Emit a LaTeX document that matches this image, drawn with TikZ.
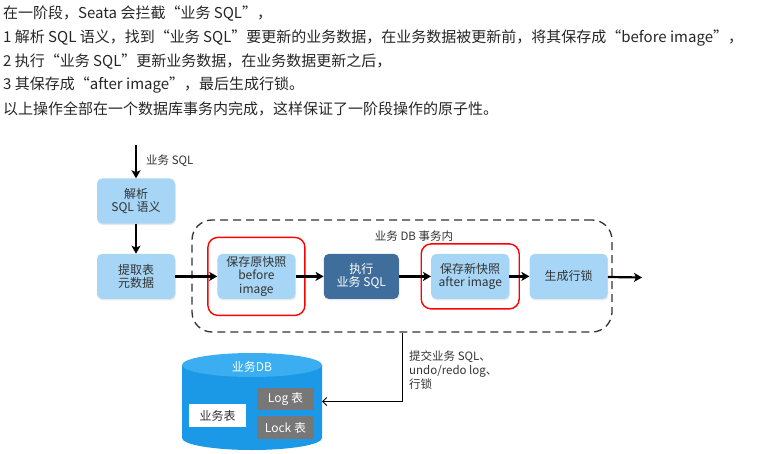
\documentclass[tikz,border=0pt]{standalone}
\usepackage{fontspec}
\setmainfont{Noto Sans CJK SC}
\usetikzlibrary{shapes.geometric, arrows.meta, positioning, shadows}

\definecolor{boxblue}{HTML}{A6D5F5}
\definecolor{execblue}{HTML}{3F6E9C}
\definecolor{dbblue}{HTML}{1B98E6}
\definecolor{dbtop}{HTML}{3AAEF0}
\definecolor{tabgray}{HTML}{777777}
\definecolor{inkgray}{HTML}{333333}

\begin{document}
\begin{tikzpicture}[
        x=1pt, y=-1pt,
        node distance=30pt and 30pt,
        line/.style={anchor=west, inner sep=0pt, font=\fontsize{15}{18}\selectfont, text=black!85},
        box/.style={rectangle, rounded corners=5pt, fill=boxblue, align=center, minimum width=78pt, minimum height=45pt, inner sep=1pt, font=\fontsize{12}{13.3}\selectfont, text=inkgray, drop shadow={opacity=0.18, shadow xshift=0.8pt, shadow yshift=-1.5pt}},
        execbox/.style={box, fill=execblue, text=white, minimum width=75pt},
        txnbox/.style={rectangle, draw=black!80, line width=1.3pt, dash pattern=on 8pt off 5pt, rounded corners=20pt, minimum width=420pt, minimum height=112pt},
        hilite/.style={rectangle, draw=red, line width=1.4pt, rounded corners=10pt},
        note/.style={inner sep=0pt, font=\fontsize{11.5}{14}\selectfont, text=inkgray},
        dbstore/.style={rectangle, minimum width=140pt, minimum height=97pt, inner sep=0pt},
        table/.style={rectangle, minimum width=57pt, minimum height=22.5pt, inner sep=0pt, font=\fontsize{12}{14}\selectfont},
        flow/.style={-{Stealth[length=8pt, width=9pt, inset=2pt]}, line width=2.2pt},
        commit/.style={-{Straight Barb[length=4pt, width=8pt]}, line width=0.9pt}
        ]
        \useasboundingbox (0,0) rectangle (767,454);

        % text above the diagram
        \node (intro) [line] at (3,14) {在一阶段，Seata 会拦截“业务 SQL”，};
        \node (step1) [line] at (3,38) {1 解析 SQL 语义，找到“业务 SQL”要更新的业务数据，在业务数据被更新前，将其保存成“before image”，};
        \node (step2) [line] at (3,61.5) {2 执行“业务 SQL”更新业务数据，在业务数据更新之后，};
        \node (step3) [line] at (3,85) {3 其保存成“after image”，最后生成行锁。};
        \node (summary) [line] at (3,109) {以上操作全部在一个数据库事务内完成，这样保证了一阶段操作的原子性。};

        % phase one
        \node (txn) [txnbox] at (402,276) {};
        \node (txnname) [note] at (414,236) {业务 DB 事务内};
        \coordinate (in) at (136,145);
        \node (sqlnote) [note, anchor=west] at (146,161) {业务 SQL};
        \node (parse) [box] at (136,201) {解析\\SQL 语义};
        \node (meta) [box, below=30pt of parse] {提取表\\元数据};
        \node (before) [box, right=42pt of meta] {保存原快照\\before\\image};
        \node (exec) [execbox, right=28pt of before] {执行\\业务 SQL};
        \node (after) [box, right=32pt of exec] {保存新快照\\after image};
        \node (lock) [box, right=20pt of after] {生成行锁};
        \coordinate (out) at (642,277.5);
        \node (hlbefore) [hilite, minimum width=97pt, minimum height=78pt] at (before) {};
        \node (hlafter) [hilite, minimum width=98pt, minimum height=65pt] at (after) {};

        % database
        \fill [dbblue] (182,365) -- (182,438) arc[start angle=180, end angle=0, x radius=70, y radius=12] -- (322,365) -- cycle;
        \fill [dbtop] (252,365) ellipse [x radius=70, y radius=12];
        \node (db) [dbstore] at (252,401.5) {};
        \node (dbname) [note, text=white, font=\fontsize{12}{14}\selectfont] at (252,367) {业务DB};
        \node (biztab) [table, fill=white, text=inkgray] at (217.5,415.5) {业务表};
        \node (logtab) [table, fill=tabgray, text=white] at (285.5,399) {Log 表};
        \node (locktab) [table, fill=tabgray, text=white] at (285.5,427.5) {Lock 表};
        \node (commitnote) [note, anchor=north west, align=left] at (409,351) {提交业务 SQL、\\undo/redo log、\\行锁};

        \draw [flow] (in) -- (parse);
        \draw [flow] (parse) -- (meta);
        \draw [flow] (meta) -- (before);
        \draw [flow] (before) -- (exec);
        \draw [flow] (exec) -- (after);
        \draw [flow] (after) -- (lock);
        \draw [flow] (lock) -- (out);
        \draw [commit] (txn.south) |- (db.east);
    \end{tikzpicture}
\end{document}
